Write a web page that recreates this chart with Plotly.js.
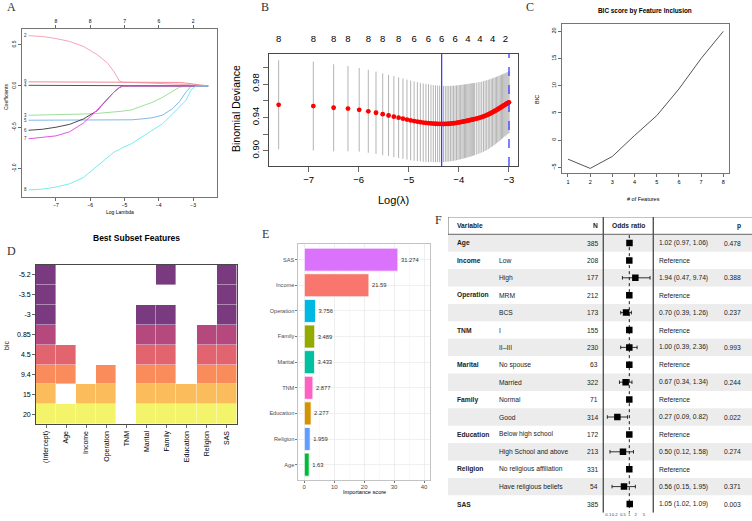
<!DOCTYPE html>
<html><head><meta charset="utf-8">
<script src="https://cdn.plot.ly/plotly-3.0.1.min.js"></script>
<style>html,body{margin:0;padding:0;background:#fff}#chart{width:752px;height:521px}</style>
</head><body><div id="chart"></div>
<script>
// ---------- Panel A: LASSO coefficient paths ----------
const lassoLogLambda = [-7.80,-7.40,-7.00,-6.60,-6.20,-5.80,-5.50,-5.30,-5.15,-5.05,-4.80,-4.50,-4.20,-3.90,-3.60,-3.40,-3.20,-3.05,-2.90,-2.56];
const coef2 = [0.61,0.60,0.575,0.54,0.48,0.38,0.28,0.17,0.06,0.045,0.043,0.040,0.037,0.033,0.028,0.024,0.018,0.013,0.008,0];
const coef9 = [0.05,0.05,0.05,0.05,0.05,0.05,0.05,0.05,0.05,0.05,0.05,0.05,0.049,0.048,0.046,0.043,0.035,0.025,0.015,0];
const coef4 = [0.008,0.008,0.008,0.008,0.008,0.008,0.008,0.008,0.008,0.008,0.008,0.008,0.008,0.008,0.008,0.008,0.007,0.006,0.004,0];
const coef3 = [-0.355,-0.353,-0.350,-0.345,-0.340,-0.333,-0.325,-0.318,-0.312,-0.305,-0.29,-0.245,-0.20,-0.14,-0.06,-0.015,0,0,0,0];
const coef5 = [-0.415,-0.415,-0.415,-0.415,-0.415,-0.415,-0.415,-0.415,-0.415,-0.415,-0.41,-0.40,-0.385,-0.355,-0.275,-0.19,-0.07,0,0,0];
const coef6 = [-0.537,-0.525,-0.50,-0.465,-0.40,-0.30,-0.16,-0.07,-0.02,0,0,0,0,0,0,0,0,0,0,0];
const coef7 = [-0.64,-0.625,-0.605,-0.555,-0.45,-0.29,-0.155,-0.07,-0.02,0,0,0,0,0,0,0,0,0,0,0];
const coef8 = [-1.26,-1.25,-1.225,-1.185,-1.11,-0.97,-0.87,-0.80,-0.77,-0.745,-0.70,-0.62,-0.54,-0.46,-0.34,-0.26,-0.17,-0.04,0,0];
const lassoLabels = ['2','9','4','3','5','6','7','8'];
const lassoTopTicks = [-7,-6,-5,-4,-3];
const lassoTopDf = ['8','8','7','6','2'];

// ---------- Panel B: cross-validation ----------
const cvLogLambda = [-7.601,-6.908,-6.502,-6.215,-5.991,-5.809,-5.655,-5.521,-5.404,-5.298,
-5.203,-5.116,-5.036,-4.962,-4.893,-4.828,-4.768,-4.711,-4.656,-4.605,
-4.556,-4.510,-4.465,-4.423,-4.382,-4.343,-4.305,-4.269,-4.234,-4.200,
-4.167,-4.135,-4.104,-4.075,-4.046,-4.017,-3.990,-3.963,-3.937,-3.912,
-3.887,-3.863,-3.840,-3.817,-3.794,-3.772,-3.751,-3.730,-3.709,-3.689,
-3.650,-3.612,-3.576,-3.541,-3.507,-3.474,-3.442,-3.411,-3.381,-3.352,
-3.324,-3.297,-3.270,-3.244,-3.219,-3.194,-3.170,-3.147,-3.124,-3.101,
-3.079,-3.058,-3.037,-3.016,-2.996];
const cvMean = [0.9550,0.9535,0.9515,0.9505,0.9490,0.9472,0.9455,0.9438,0.9422,0.9408,
0.9396,0.9384,0.9373,0.9363,0.9355,0.9348,0.9342,0.9337,0.9333,0.9330,
0.9327,0.9325,0.9323,0.9322,0.9321,0.9320,0.9320,0.9321,0.9322,0.9323,
0.9325,0.9327,0.9329,0.9331,0.9334,0.9337,0.9340,0.9343,0.9346,0.9349,
0.9352,0.9355,0.9358,0.9361,0.9364,0.9367,0.9370,0.9373,0.9376,0.9379,
0.9384,0.9390,0.9396,0.9403,0.9410,0.9418,0.9426,0.9434,0.9443,0.9452,
0.9461,0.9470,0.9479,0.9488,0.9497,0.9506,0.9515,0.9524,0.9533,0.9542,
0.9550,0.9558,0.9566,0.9573,0.9580];
const cvSd = [0.0535,0.0533,0.0522,0.0512,0.0502,0.0497,0.0494,0.0491,0.0488,0.0486,
0.0484,0.0482,0.0480,0.0478,0.0476,0.0474,0.0472,0.0470,0.0468,0.0466,
0.0464,0.0462,0.0461,0.0460,0.0459,0.0458,0.0457,0.0456,0.0455,0.0454,
0.0453,0.0452,0.0451,0.0450,0.0449,0.0448,0.0447,0.0446,0.0445,0.0444,
0.0443,0.0442,0.0441,0.0440,0.0439,0.0438,0.0437,0.0436,0.0435,0.0434,
0.0432,0.0430,0.0428,0.0426,0.0424,0.0422,0.0420,0.0417,0.0414,0.0411,
0.0408,0.0405,0.0402,0.0399,0.0396,0.0393,0.0390,0.0387,0.0384,0.0381,
0.0378,0.0376,0.0374,0.0372,0.0370];
const cvTopTicks = [-7.601,-6.908,-6.502,-6.215,-5.809,-5.521,-5.203,-4.893,-4.605,-4.343,-4.075,-3.817,-3.576,-3.324,-3.068];
const cvTopDf = ['8','8','8','8','8','8','8','6','6','6','6','4','4','4','2'];

// ---------- Panel C: BIC by number of features ----------
const bicFeatureCount = [1,2,3,4,5,6,7,8];
const bicScore = [-3.5,-5.2,-3,0.85,4.5,9.4,15,20];

// ---------- Panel D: best subset ----------
const subsetFeatures = ['(Intercept)','Age','Income','Operation','TNM','Marital','Family','Education','Religion','SAS'];
const subsetBic = ['-5.2','-3.5','-3','0.85','4.5','9.4','15','20'];
const subsetIncluded = [
  [1,0,0,0,0,0,1,0,0,1],
  [1,0,0,0,0,0,0,0,0,1],
  [1,0,0,0,0,1,1,0,0,1],
  [1,0,0,0,0,1,1,0,1,1],
  [1,1,0,0,0,1,1,0,1,1],
  [1,1,0,1,0,1,1,0,1,1],
  [1,0,1,1,0,1,1,1,1,1],
  [1,1,1,1,0,1,1,1,1,1]
];

// ---------- Panel E: importance ----------
const impFeatures = ['SAS','Income','Operation','Family','Marital','TNM','Education','Religion','Age'];
const impScores = [31.274,21.59,3.756,3.489,3.433,2.877,2.277,1.959,1.63];

// ---------- Panel F: odds ratio table ----------
const fVariable = ['Age','Income','','Operation','','TNM','','Marital','','Family','','Education','','Religion','','SAS'];
const fGroup = ['','Low','High','MRM','BCS','I','II\u2013III','No spouse','Married','Normal','Good','Below high school','High School and above','No religious affiliation','Have religious beliefs',''];
const fN = [385,208,177,212,173,155,230,63,322,71,314,172,213,331,54,385];
const fOR = [1.02,1,1.94,1,0.70,1,1.00,1,0.67,1,0.27,1,0.50,1,0.56,1.05];
const fLow = [0.97,null,0.47,null,0.39,null,0.39,null,0.34,null,0.09,null,0.12,null,0.15,1.02];
const fHigh = [1.06,null,9.74,null,1.26,null,2.36,null,1.34,null,0.82,null,1.58,null,1.95,1.09];
const fP = [0.478,null,0.388,null,0.237,null,0.993,null,0.244,null,0.022,null,0.274,null,0.371,0.003];
const forestTicks = [0.1,0.2,0.5,1,2,5];

// ---------- styles ----------
const W = 752, H = 521;
const px = x => x / W, py = y => 1 - y / H;
const FONT = 'Liberation Sans, Arial, sans-serif';
const SERIF = 'Liberation Serif, Times New Roman, serif';
const lassoColors = ['#f4a6b7','#f08a9a','#555555','#9ee09a','#7fb8ee','#4a4a4a','#e455e4','#77eeee'];
const subsetRowColors = ['#7a3a7f','#7a3a7f','#7a3a7f','#b5487d','#e2646f','#fa8b5b','#fbbd5c','#f4f46b'];
const impColors = ['#db72fb','#f8766d','#00b9e3','#93aa00','#00c19f','#ff61c3','#d39200','#619cff','#00ba38'];

const traces = [];
const annotations = [];
const shapes = [];

// A
const lassoSeries = [coef2, coef9, coef4, coef3, coef5, coef6, coef7, coef8];
lassoSeries.forEach((s, k) => {
  traces.push({type:'scatter', mode:'lines', x:lassoLogLambda, y:s, xaxis:'x', yaxis:'y',
    line:{color:lassoColors[k], width:1}, hoverinfo:'skip'});
  annotations.push({xref:'x', yref:'y', x:lassoLogLambda[0], y:s[0], text:lassoLabels[k], showarrow:false,
    xanchor:'right', xshift:0, font:{size:4.5, color:'#333'}});
});
traces.push({type:'scatter', x:[], y:[], xaxis:'x2', yaxis:'y'});

// B
traces.push({type:'scatter', mode:'markers', x:cvLogLambda, y:cvMean, xaxis:'x3', yaxis:'y3',
  marker:{color:'#ff0000', size:4.8}, hoverinfo:'skip',
  error_y:{type:'data', array:cvSd, symmetric:true, color:'#b4b4b4', thickness:1, width:0}});
traces.push({type:'scatter', x:[], y:[], xaxis:'x4', yaxis:'y3'});
const minIdx = cvMean.indexOf(Math.min(...cvMean));
const lambdaMin = cvLogLambda[minIdx];
const thresh = cvMean[minIdx] + cvSd[minIdx];
let seIdx = minIdx;
cvMean.forEach((v, i) => { if (v <= thresh && cvLogLambda[i] > cvLogLambda[seIdx]) seIdx = i; });
const lambda1se = cvLogLambda[seIdx];
shapes.push({type:'line', xref:'x3', yref:'y3 domain', x0:lambdaMin, x1:lambdaMin, y0:0, y1:1, line:{color:'#3b3bff', width:1.3}});
shapes.push({type:'line', xref:'x3', yref:'y3 domain', x0:lambda1se, x1:lambda1se, y0:0, y1:1, line:{color:'#3b3bff', width:1.3, dash:'dash'}});

// C
traces.push({type:'scatter', mode:'lines', x:bicFeatureCount, y:bicScore, xaxis:'x5', yaxis:'y5',
  line:{color:'#555', width:1}, hoverinfo:'skip'});

// D
const zD = subsetIncluded.map((row, r) => row.map(v => v ? r : null));
const csD = [];
subsetRowColors.forEach((c, i) => {
  csD.push([i / subsetRowColors.length, c]);
  csD.push([(i + 1) / subsetRowColors.length, c]);
});
traces.push({type:'heatmap', x:subsetFeatures, y:subsetBic, z:zD, xaxis:'x6', yaxis:'y6',
  zmin:-0.5, zmax:subsetRowColors.length - 0.5, colorscale:csD, showscale:false, xgap:0.4, ygap:0.4, hoverinfo:'skip'});

// E
traces.push({type:'bar', orientation:'h', x:impScores, y:impFeatures, xaxis:'x7', yaxis:'y7', width:0.9,
  marker:{color:impColors, line:{color:'#ffffff', width:0.8}},
  text:impScores.map(String), textposition:'outside', cliponaxis:false, constraintext:'none',
  textfont:{size:5.8, color:'#333', family:FONT}, hoverinfo:'skip'});

// F
const rowIdx = fVariable.map((_, i) => i);
traces.push({type:'scatter', x:[], y:[], xaxis:'x8', yaxis:'y8'});
traces.push({type:'scatter', mode:'lines', x:[1,1], y:[-0.45, fVariable.length - 0.5], xaxis:'x9', yaxis:'y8',
  line:{color:'#000', width:0.9, dash:'dot'}, hoverinfo:'skip'});
traces.push({type:'scatter', mode:'markers', x:fOR, y:rowIdx, xaxis:'x9', yaxis:'y8',
  marker:{symbol:'square', size:6.5, color:'#000'}, hoverinfo:'skip',
  error_x:{type:'data', symmetric:false,
    array:fOR.map((v, i) => fHigh[i] == null ? 0 : fHigh[i] - v),
    arrayminus:fOR.map((v, i) => fLow[i] == null ? 0 : v - fLow[i]),
    color:'#000', thickness:0.8, width:1.8}});

const TX0 = 448, TX1 = 752, SEP1 = 603.3, SEP2 = 653.3;
rowIdx.forEach(i => {
  if (i % 2 === 0) shapes.push({type:'rect', xref:'x8', yref:'y8', x0:TX0, x1:TX1, y0:i - 0.5, y1:i + 0.5,
    fillcolor:'#ececec', line:{width:0}, layer:'below'});
});
const tf = {size:6.7, color:'#222', family:FONT};
const addT = (x, y, text, anchor, bold) => annotations.push({xref:'x8', yref:'y8', x, y,
  text: bold ? '<b>' + text + '</b>' : text, showarrow:false, xanchor:anchor, font:tf});
addT(455, -1, 'Variable', 'left', true);
addT(600, -1, 'N', 'right', true);
addT((SEP1 + SEP2) / 2, -1, 'Odds ratio', 'center', true);
addT(743, -1, 'p', 'right', true);
rowIdx.forEach(i => {
  if (fVariable[i]) addT(455, i, fVariable[i], 'left', true);
  if (fGroup[i]) addT(497, i, fGroup[i], 'left', false);
  addT(600, i, String(fN[i]), 'right', false);
  const orTxt = fLow[i] == null ? 'Reference'
    : fOR[i].toFixed(2) + ' (' + fLow[i].toFixed(2) + ', ' + fHigh[i].toFixed(2) + ')';
  addT(657, i, orTxt, 'left', false);
  if (fP[i] != null) addT(743, i, fP[i].toFixed(3), 'right', false);
});
const lineC = '#555';
shapes.push({type:'line', xref:'x8', yref:'y8', x0:TX0, x1:TX1, y0:-1.5, y1:-1.5, line:{color:lineC, width:0.9}, layer:'above'});
shapes.push({type:'line', xref:'x8', yref:'y8', x0:TX0, x1:TX1, y0:-0.5, y1:-0.5, line:{color:lineC, width:0.9}, layer:'above'});
shapes.push({type:'line', xref:'x8', yref:'y8', x0:TX0, x1:TX0, y0:-1.5, y1:-0.5, line:{color:lineC, width:0.9}, layer:'above'});
shapes.push({type:'line', xref:'x8', yref:'y8', x0:SEP1, x1:SEP1, y0:-1.5, y1:fVariable.length - 0.5, line:{color:lineC, width:1.4}, layer:'above'});
shapes.push({type:'line', xref:'x8', yref:'y8', x0:SEP2, x1:SEP2, y0:-1.5, y1:fVariable.length - 0.5, line:{color:lineC, width:1.4}, layer:'above'});

// ---------- text annotations (panel letters and titles) ----------
const pa = (x, y, text, size, opts) => annotations.push(Object.assign({xref:'paper', yref:'paper', x:px(x), y:py(y),
  text, showarrow:false, xanchor:'center', yanchor:'middle', font:{size, color:'#000', family:FONT}}, opts || {}));
[['A',11,7],['B',265,7],['C',530,7],['D',11,251],['E',265,234],['F',438,220]].forEach(([t,x,y]) =>
  pa(x, y, t, 12, {font:{size:12, color:'#333', family:SERIF}}));
pa(120, 212, 'Log Lambda', 5);
pa(6, 97, 'Coefficients', 5, {textangle:-90});
pa(393, 200, 'Log(\u03bb)', 11);
pa(236, 109, 'Binomial Deviance', 10.5, {textangle:-90});
pa(645, 11, '<b>BIC score by Feature Inclusion</b>', 6.4);
pa(643, 199, '# of Features', 5.5);
pa(537, 100, 'BIC', 5.5, {textangle:-90});
pa(136, 238, '<b>Best Subset Features</b>', 8.5);
pa(6, 345, 'bic', 7, {textangle:-90});
pa(364, 492, 'Importance score', 5.6);

// ---------- axes ----------
const rAx = (o) => Object.assign({showgrid:false, zeroline:false, ticks:'outside', ticklen:3, tickwidth:0.8,
  tickcolor:'#444', showline:true, mirror:true, linecolor:'#666', linewidth:0.9, fixedrange:true}, o);
const layout = {
  width:W, height:H, margin:{l:0, r:0, t:0, b:0}, showlegend:false,
  paper_bgcolor:'#fff', plot_bgcolor:'rgba(0,0,0,0)', font:{family:FONT, color:'#000'},
  annotations, shapes,
  // A
  xaxis: rAx({domain:[px(22), px(217.3)], range:[-7.991,-2.293], anchor:'y', tickvals:[-7,-6,-5,-4,-3], tickfont:{size:5}}),
  xaxis2: rAx({overlaying:'x', side:'top', anchor:'y', range:[-7.991,-2.293], tickvals:lassoTopTicks, ticktext:lassoTopDf,
    tickfont:{size:5}, showline:false, mirror:false}),
  yaxis: rAx({domain:[py(196.7), py(29.3)], range:[-1.342,0.687], anchor:'x', tickvals:[-1,-0.5,0,0.5],
    ticktext:['-1.0','-0.5','0.0','0.5'], tickangle:-90, tickfont:{size:5}}),
  // B
  xaxis3: rAx({domain:[px(269), px(518.3)], range:[-7.794,-2.81], anchor:'y3', tickvals:[-7,-6,-5,-4,-3],
    ticktext:['\u22127','\u22126','\u22125','\u22124','\u22123'], tickfont:{size:9.5}, ticklen:5, linecolor:'#333'}),
  xaxis4: rAx({overlaying:'x3', side:'top', anchor:'y3', range:[-7.794,-2.81], tickvals:cvTopTicks, ticktext:cvTopDf,
    tickfont:{size:9.5}, ticks:'', showline:false, mirror:false, ticklabelstandoff:9, tickangle:0}),
  yaxis3: rAx({domain:[py(166), py(54)], range:[0.8816,1.016], anchor:'x3', tickvals:[0.90,0.92,0.94,0.96,0.98,1.00],
    ticktext:['0.90','','0.94','','0.98',''], tickangle:-90, tickfont:{size:9.5}, ticklen:5, linecolor:'#333'}),
  // C
  xaxis5: rAx({domain:[px(562), px(729.3)], range:[0.73,8.27], anchor:'y5', tickvals:bicFeatureCount, tickfont:{size:5.5}}),
  yaxis5: rAx({domain:[py(173.3), py(24.3)], range:[-6.1,21.29], anchor:'x5', tickvals:[-5,0,5,10,15,20],
    tickangle:-90, tickfont:{size:5.5}}),
  // D
  xaxis6: rAx({domain:[px(36), px(236.7)], type:'category', anchor:'y6', tickangle:-90, tickfont:{size:7}, linecolor:'#333', ticklen:3}),
  yaxis6: rAx({domain:[py(424.3), py(265)], type:'category', anchor:'x6', autorange:'reversed', tickfont:{size:7}, linecolor:'#333', ticklen:3}),
  // E
  xaxis7: rAx({domain:[px(298.3), px(430)], range:[-2,42], anchor:'y7', tickvals:[0,10,20,30,40],
    tickfont:{size:6, color:'#4d4d4d'}, ticklen:2, tickcolor:'#555', showgrid:true, gridcolor:'#e6e6e6', gridwidth:0.6,
    minor:{dtick:5, tick0:0, showgrid:true, gridcolor:'#f4f4f4', gridwidth:0.5}, linecolor:'#bdbdbd', ticklabelstandoff:-1}),
  yaxis7: rAx({domain:[py(480), py(244.3)], type:'category', categoryorder:'array', categoryarray:impFeatures.slice().reverse(),
    range:[-0.6, impFeatures.length - 0.4], anchor:'x7', tickfont:{size:5.6, color:'#4d4d4d'}, ticklen:2, tickcolor:'#555',
    showgrid:true, gridcolor:'#e6e6e6', gridwidth:0.6, linecolor:'#bdbdbd'}),
  // F
  xaxis8: {domain:[px(TX0), 1], range:[TX0, TX1], anchor:'y8', visible:false, fixedrange:true},
  yaxis8: {domain:[py(512.7), py(216.9)], range:[fVariable.length - 0.5, -1.5], anchor:'x8', visible:false, fixedrange:true},
  xaxis9: {domain:[px(SEP1), px(SEP2)], type:'log', range:[-1.238, 1.143], anchor:'y8', tickvals:forestTicks,
    ticktext:forestTicks.map(String), tickfont:{size:4.3, color:'#444'}, ticks:'', showline:false, showgrid:false,
    zeroline:false, fixedrange:true, ticklabelstandoff:-2, tickangle:0}
};

Plotly.newPlot('chart', traces, layout, {staticPlot:true, displayModeBar:false});
</script>
</body></html>
